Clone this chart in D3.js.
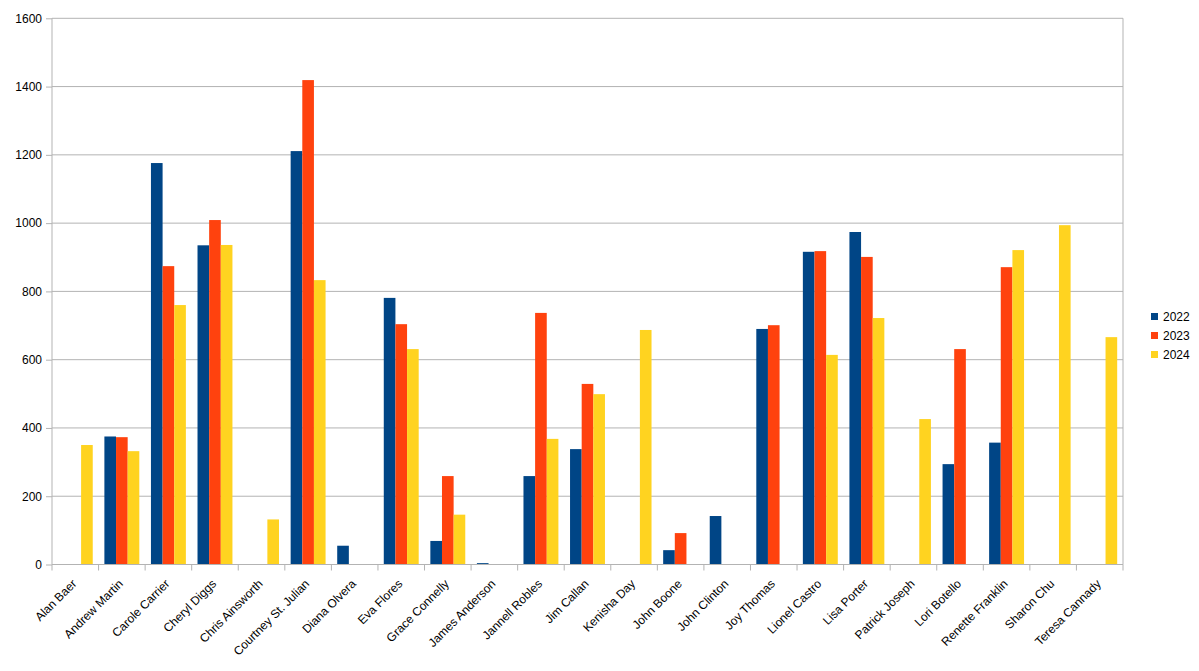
<!DOCTYPE html>
<html>
<head>
<meta charset="utf-8">
<script src="https://cdn.jsdelivr.net/npm/d3@7"></script>
<style>
  html, body { margin: 0; padding: 0; background: #fff; }
  svg { display: block; font-family: "Liberation Sans", Arial, sans-serif; }
</style>
</head>
<body>
<svg id="chart" width="1199" height="671"></svg>
<script>
const categories = ["Alan Baer","Andrew Martin","Carole Carrier","Cheryl Diggs","Chris Ainsworth","Courtney St. Julian","Diana Olvera","Eva Flores","Grace Connelly","James Anderson","Jannell Robles","Jim Callan","Kenisha Day","John Boone","John Clinton","Joy Thomas","Lionel Castro","Lisa Porter","Patrick Joseph","Lori Botello","Renette Franklin","Sharon Chu","Teresa Cannady"];
const seriesNames = ["2022","2023","2024"];
const values2022 = [0,375,1176,935,0,1211,55,781,69,4,259,338,0,42,142,690,916,974,0,294,357,0,0];
const values2023 = [0,373,874,1009,0,1419,0,704,259,0,737,529,0,92,0,701,918,901,0,631,871,0,0];
const values2024 = [350,332,760,936,132,833,0,631,146,0,368,499,687,0,0,0,614,722,426,0,921,994,666];
const yTicks = [0,200,400,600,800,1000,1200,1400,1600];
const colors = ["#004586","#ff420e","#ffd320"];

(function () {
const allSeries = [values2022, values2023, values2024];
const svg = d3.select("#chart");
const mLeft = 52, mRight = 1123, mTop = 18.3, mBottom = 564.5;

const x = d3.scaleBand().domain(categories).range([mLeft, mRight]).paddingInner(0).paddingOuter(0);
const y = d3.scaleLinear().domain([0, 1600]).range([mBottom, mTop]);
const xs = d3.scaleBand().domain(seriesNames).range([0, x.bandwidth()]).paddingInner(0).paddingOuter(0.5);

// gridlines
svg.append("g").selectAll("line").data(yTicks).join("line")
  .attr("x1", mLeft).attr("x2", mRight)
  .attr("y1", d => y(d)).attr("y2", d => y(d))
  .attr("stroke", "#b3b3b3").attr("stroke-width", 1);

// right border
svg.append("line").attr("x1", mRight).attr("x2", mRight).attr("y1", mTop).attr("y2", mBottom)
  .attr("stroke", "#b3b3b3");

// bars
const g = svg.append("g");
seriesNames.forEach((s, si) => {
  g.append("g").selectAll("rect").data(categories.map((c, i) => ({c, v: allSeries[si][i]})).filter(d => d.v > 0))
    .join("rect")
    .attr("x", d => x(d.c) + xs(s))
    .attr("width", xs.bandwidth())
    .attr("y", d => y(d.v))
    .attr("height", d => y(0) - y(d.v))
    .attr("fill", colors[si]);
});

// y axis
const yAxis = d3.axisLeft(y).tickValues(yTicks).tickSize(6).tickPadding(4).tickFormat(d3.format("d"));
const ya = svg.append("g").attr("transform", `translate(${mLeft},0)`).call(yAxis);
ya.select(".domain").attr("stroke", "#b3b3b3").attr("d", `M0,${mTop}V${mBottom}`);
ya.selectAll(".tick line").attr("stroke", "#b3b3b3");
ya.selectAll(".tick text").attr("font-size", 12).attr("fill", "#000").attr("font-family", "Liberation Sans, Arial, sans-serif");

// x axis
const xAxis = d3.axisBottom(x).tickSize(0).tickFormat(d => d);
const xa = svg.append("g").attr("transform", `translate(0,${mBottom})`).call(xAxis);
xa.select(".domain").attr("stroke", "#b3b3b3").attr("d", `M${mLeft},0H${mRight}`);
const tickPos = categories.map(c => x(c)).concat([mRight]);
xa.append("g").selectAll("line").data(tickPos).join("line")
  .attr("x1", d => d).attr("x2", d => d).attr("y1", 0).attr("y2", 6)
  .attr("stroke", "#b3b3b3");
xa.selectAll(".tick text")
  .attr("font-size", 12).attr("fill", "#000").attr("font-family", "Liberation Sans, Arial, sans-serif")
  .attr("text-anchor", "end")
  .attr("dy", "0.35em")
  .attr("transform", "translate(-1,17) rotate(-45)")
  .attr("y", 0).attr("x", 0);

// legend
const lg = svg.append("g").attr("transform", "translate(1151,317)");
seriesNames.forEach((s, i) => {
  lg.append("rect").attr("x", 0).attr("y", i * 19 - 4).attr("width", 7).attr("height", 7).attr("fill", colors[i]);
  lg.append("text").attr("x", 12).attr("y", i * 19).attr("dy", "0.35em")
    .attr("font-size", 12).attr("fill", "#000").text(s);
});
})();
</script>
</body>
</html>
